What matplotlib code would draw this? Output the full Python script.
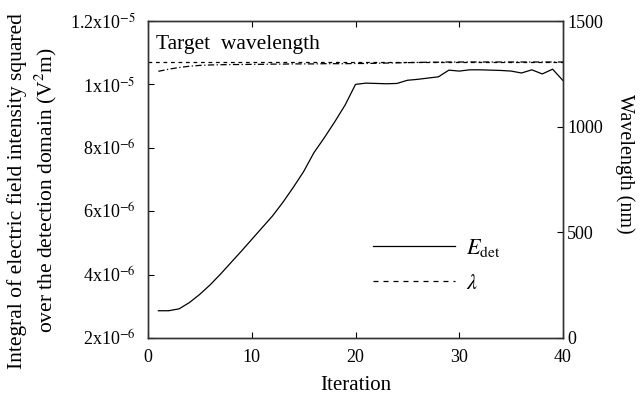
"""Convergence of E_det and wavelength over optimisation iterations."""
import matplotlib.pyplot as plt
from matplotlib.lines import Line2D

plt.rcParams["font.family"] = ["Liberation Serif", "DejaVu Serif"]
plt.rcParams["mathtext.fontset"] = "stix"

iteration = list(range(1, 41))
e_det = [2.86, 2.86, 2.92, 3.12, 3.38, 3.68, 4.02, 4.38, 4.74, 5.11,
         5.48, 5.85, 6.28, 6.75, 7.25, 7.85, 8.32, 8.82, 9.35, 10.00,
         10.04, 10.03, 10.02, 10.03, 10.13, 10.16, 10.20, 10.24, 10.45, 10.42,
         10.46, 10.46, 10.45, 10.44, 10.42, 10.36, 10.46, 10.33, 10.48, 10.12]
e_det = [v * 1e-6 for v in e_det]
wavelength = [1262, 1272, 1280, 1286, 1290, 1292, 1293, 1294, 1294, 1295,
              1295, 1296, 1296, 1297, 1297, 1297, 1298, 1298, 1298, 1299,
              1299, 1300, 1301, 1302, 1303, 1304, 1305, 1305, 1306, 1306,
              1306, 1306, 1306, 1306, 1306, 1306, 1306, 1306, 1306, 1306]
target_wl = 1306

left_ticks = [2e-6, 4e-6, 6e-6, 8e-6, 1e-5, 1.2e-5]
left_labels = ["2x10$^{-6}$", "4x10$^{-6}$", "6x10$^{-6}$", "8x10$^{-6}$",
               "1x10$^{-5}$", "1.2x10$^{-5}$"]
right_ticks = [0, 500, 1000, 1500]
x_ticks = [0, 10, 20, 30, 40]


def main() -> None:
    fig = plt.figure(figsize=(6.41, 3.99), dpi=100)
    ax = fig.add_axes([148 / 641, 1 - 338 / 399, 415 / 641, 317 / 399])
    ax2 = ax.twinx()

    ax.plot(iteration, e_det, color="black", lw=0.9)
    ax2.plot(iteration, wavelength, color="black", lw=0.9, ls=(0, (5, 2, 1, 2)))
    ax2.axhline(target_wl, color="black", lw=0.9, ls=(0, (3, 3)))

    ax.set_xlim(0, 40)
    ax.set_ylim(2e-6, 1.2e-5)
    ax2.set_ylim(0, 1500)
    ax.set_xticks(x_ticks)
    ax.set_yticks(left_ticks)
    ax.set_yticklabels(left_labels)
    ax2.set_yticks(right_ticks)

    ax.tick_params(direction="in", labelsize=13, top=True, length=4, width=0.8)
    ax.tick_params(axis="x", pad=8)
    ax.tick_params(axis="y", pad=9)
    ax2.tick_params(direction="in", labelsize=13, length=4, width=0.8, pad=3)
    for a in (ax, ax2):
        for sp in a.spines.values():
            sp.set_linewidth(1.0)
            sp.set_color("#333333")

    ax.set_xlabel("Iteration", fontsize=15, labelpad=7)
    ax.set_ylabel("Integral of electric field intensity squared\n"
                  "over the detection domain (V$^2$m)", fontsize=15.5,
                  linespacing=1.3)
    ax.yaxis.set_label_coords(-0.215, 0.465)
    ax2.set_ylabel("Wavelength (nm)", fontsize=14.5, rotation=270)
    ax2.yaxis.set_label_coords(1.172, 0.55)

    ax.text(0.02, 0.955, "Target  wavelength", transform=ax.transAxes,
            fontsize=15.5, va="top", ha="left")

    handles = [Line2D([], [], color="black", lw=0.9),
               Line2D([], [], color="black", lw=0.9, ls=(0, (4, 4)))]
    ax.legend(handles, ["$E_{\\rm det}$", "$\\lambda$"], frameon=False,
              loc="center left", bbox_to_anchor=(0.494, 0.23),
              fontsize=16, handlelength=3.7, handletextpad=0.5,
              labelspacing=0.65)

    fig.savefig("out.png", dpi=100)


if __name__ == "__main__":
    main()
